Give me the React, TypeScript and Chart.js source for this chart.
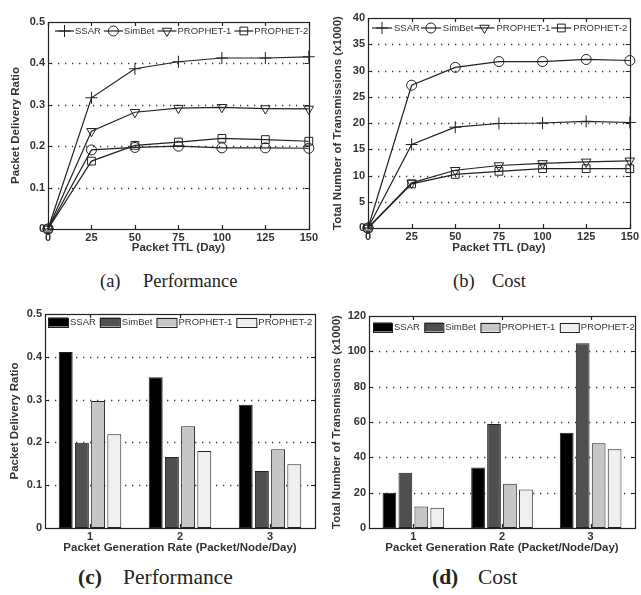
import React, { useEffect, useRef } from 'react';
import { Chart, registerables } from 'chart.js';

Chart.register(...registerables);

// ---------- data ----------
const SERIES = ['SSAR', 'SimBet', 'PROPHET-1', 'PROPHET-2'];
const TTL = [0, 25, 50, 75, 100, 125, 150];

const perfSSAR = [0, 0.317, 0.387, 0.404, 0.413, 0.413, 0.416];
const perfSimBet = [0, 0.191, 0.197, 0.2, 0.196, 0.196, 0.195];
const perfP1 = [0, 0.236, 0.282, 0.292, 0.294, 0.291, 0.29];
const perfP2 = [0, 0.164, 0.202, 0.21, 0.219, 0.216, 0.212];

const costSSAR = [0, 15.9, 19.2, 19.9, 20.0, 20.3, 20.1];
const costSimBet = [0, 27.2, 30.6, 31.7, 31.7, 32.1, 31.9];
const costP1 = [0, 8.6, 11.0, 11.9, 12.3, 12.6, 12.8];
const costP2 = [0, 8.4, 10.2, 10.8, 11.3, 11.3, 11.3];

const RATES = ['1', '2', '3'];
const barPerfSSAR = [0.411, 0.352, 0.288];
const barPerfSimBet = [0.199, 0.166, 0.133];
const barPerfP1 = [0.297, 0.238, 0.184];
const barPerfP2 = [0.219, 0.18, 0.149];

const barCostSSAR = [19.9, 34.2, 53.9];
const barCostSimBet = [31.3, 58.8, 104.6];
const barCostP1 = [12.2, 25.0, 48.0];
const barCostP2 = [11.4, 21.8, 44.6];

// ---------- styles ----------
const MARKERS = [
  { style: 'cross', radius: 6, rotation: 0 },
  { style: 'circle', radius: 5, rotation: 0 },
  { style: 'triangle', radius: 5.5, rotation: 180 },
  { style: 'rect', radius: 5.5, rotation: 0 },
];
const BAR_COLORS = ['#000000', '#505050', '#c6c6c6', '#efefef'];
const INK = '#222';
const TEXT = '#333';
const FONT = 'Liberation Sans, Arial, sans-serif';

function drawMarker(ctx: CanvasRenderingContext2D, style: string, x: number, y: number, r: number) {
  ctx.beginPath();
  if (style === 'cross') {
    ctx.moveTo(x - r, y);
    ctx.lineTo(x + r, y);
    ctx.moveTo(x, y - r);
    ctx.lineTo(x, y + r);
  } else if (style === 'circle') {
    ctx.arc(x, y, r, 0, Math.PI * 2);
  } else if (style === 'triangle') {
    const s = Math.sin(Math.PI / 3) * r;
    ctx.moveTo(x, y + r);
    ctx.lineTo(x - s, y - r / 2);
    ctx.lineTo(x + s, y - r / 2);
    ctx.closePath();
  } else {
    const s = Math.SQRT1_2 * r;
    ctx.rect(x - s, y - s, 2 * s, 2 * s);
  }
  ctx.stroke();
}

const framePlugin = {
  id: 'matlabFrame',
  beforeDatasetsDraw(chart: any) {
    const { ctx, chartArea: a, scales } = chart;
    const y = scales.y;
    ctx.save();
    ctx.strokeStyle = '#3a3a3a';
    ctx.lineWidth = 1.3;
    ctx.setLineDash([1.3, 5.7]);
    y.ticks.forEach((t: any) => {
      if (t.value <= y.min || t.value >= y.max) return;
      const py = Math.round(y.getPixelForValue(t.value)) + 0.5;
      ctx.beginPath();
      ctx.moveTo(a.left + 3, py);
      ctx.lineTo(a.right, py);
      ctx.stroke();
    });
    ctx.restore();
  },
  afterDatasetsDraw(chart: any) {
    const { ctx, chartArea: a, scales } = chart;
    const x = scales.x;
    const y = scales.y;
    const L = 4;
    ctx.save();
    ctx.strokeStyle = INK;
    ctx.lineWidth = 1.2;
    ctx.setLineDash([]);
    ctx.strokeRect(Math.round(a.left) + 0.5, Math.round(a.top) + 0.5, Math.round(a.right - a.left), Math.round(a.bottom - a.top));
    ctx.beginPath();
    x.ticks.forEach((_t: any, i: number) => {
      const px = Math.round(x.getPixelForTick(i)) + 0.5;
      ctx.moveTo(px, a.bottom);
      ctx.lineTo(px, a.bottom - L);
      ctx.moveTo(px, a.top);
      ctx.lineTo(px, a.top + L);
    });
    y.ticks.forEach((t: any) => {
      const py = Math.round(y.getPixelForValue(t.value)) + 0.5;
      ctx.moveTo(a.left, py);
      ctx.lineTo(a.left + L, py);
      ctx.moveTo(a.right, py);
      ctx.lineTo(a.right - L, py);
    });
    ctx.stroke();
    ctx.restore();
  },
};

const legendPlugin = {
  id: 'insideLegend',
  afterDraw(chart: any, _args: any, opts: any) {
    if (!opts || !opts.kind) return;
    const { ctx, chartArea: a } = chart;
    ctx.save();
    ctx.font = opts.font;
    ctx.textBaseline = 'middle';
    let x = a.left + opts.dx;
    const y = a.top + opts.dy;
    chart.data.datasets.forEach((ds: any, i: number) => {
      ctx.setLineDash([]);
      if (opts.kind === 'line') {
        ctx.strokeStyle = INK;
        ctx.lineWidth = 1.2;
        ctx.beginPath();
        ctx.moveTo(x, y);
        ctx.lineTo(x + opts.sample, y);
        ctx.stroke();
        ctx.lineWidth = 1;
        drawMarker(ctx, MARKERS[i].style, x + opts.sample / 2, y, MARKERS[i].radius);
      } else {
        ctx.fillStyle = ds.backgroundColor;
        ctx.fillRect(x, y - opts.h / 2, opts.sample, opts.h);
        ctx.strokeStyle = INK;
        ctx.lineWidth = 1;
        ctx.strokeRect(x + 0.5, Math.round(y - opts.h / 2) + 0.5, opts.sample, opts.h);
      }
      ctx.fillStyle = TEXT;
      ctx.fillText(ds.label, x + opts.sample + opts.tg, y + 0.5);
      x += opts.sample + opts.tg + ctx.measureText(ds.label).width + opts.ig;
    });
    ctx.restore();
  },
};

type Geo = {
  yW: number; xH: number; padTop: number; padRight: number;
  yTitlePad: number; xTitlePad: number;
};

function scalesFor(geo: Geo, xOpts: any, yOpts: any, xTitle: string, yTitle: string) {
  return {
    x: {
      ...xOpts,
      grid: { display: false, drawTicks: false },
      border: { display: false },
      ticks: { ...(xOpts.ticks || {}), padding: 2, color: TEXT, font: { family: FONT, size: 11, weight: 'bold' }, maxRotation: 0, autoSkip: false },
      title: { display: true, text: xTitle, color: TEXT, font: { family: FONT, size: 11.5, weight: 'bold' }, padding: { top: 0, bottom: geo.xTitlePad } },
      afterFit: (s: any) => { s.height = geo.xH; },
    },
    y: {
      ...yOpts,
      grid: { display: false, drawTicks: false },
      border: { display: false },
      ticks: { ...(yOpts.ticks || {}), padding: 3, color: TEXT, font: { family: FONT, size: 11, weight: 'bold' } },
      title: { display: true, text: yTitle, color: TEXT, font: { family: FONT, size: 11.5, weight: 'bold' }, padding: { top: geo.yTitlePad, bottom: 0 } },
      afterFit: (s: any) => { s.width = geo.yW; },
    },
  };
}

function lineConfig(values: number[][], yMax: number, yStep: number, yTitle: string, geo: Geo, legend: any) {
  return {
    type: 'line',
    data: {
      datasets: values.map((vals, i) => ({
        label: SERIES[i],
        data: TTL.map((t, j) => ({ x: t, y: vals[j] })),
        borderColor: INK,
        borderWidth: 1.2,
        pointStyle: MARKERS[i].style,
        pointRadius: MARKERS[i].radius,
        pointRotation: MARKERS[i].rotation,
        pointBorderColor: INK,
        pointBackgroundColor: 'rgba(0,0,0,0)',
        pointBorderWidth: 1,
        tension: 0,
        fill: false,
        clip: false,
      })),
    },
    options: {
      responsive: false,
      animation: false,
      events: [],
      layout: { autoPadding: false, padding: { top: geo.padTop, right: geo.padRight, left: 0, bottom: 0 } },
      plugins: { legend: { display: false }, tooltip: { enabled: false }, insideLegend: legend },
      scales: scalesFor(
        geo,
        { type: 'linear', min: 0, max: 150, ticks: { stepSize: 25 } },
        { type: 'linear', min: 0, max: yMax, ticks: { stepSize: yStep } },
        'Packet TTL (Day)',
        yTitle,
      ),
    },
    plugins: [framePlugin, legendPlugin],
  };
}

function barConfig(values: number[][], yMax: number, yStep: number, yTitle: string, geo: Geo, legend: any) {
  return {
    type: 'bar',
    data: {
      labels: RATES,
      datasets: values.map((vals, i) => ({
        label: SERIES[i],
        data: vals,
        backgroundColor: BAR_COLORS[i],
        borderColor: INK,
        borderWidth: 1,
        borderSkipped: false,
        categoryPercentage: 0.72,
        barPercentage: 0.86,
      })),
    },
    options: {
      responsive: false,
      animation: false,
      events: [],
      layout: { autoPadding: false, padding: { top: geo.padTop, right: geo.padRight, left: 0, bottom: 0 } },
      plugins: { legend: { display: false }, tooltip: { enabled: false }, insideLegend: legend },
      scales: scalesFor(
        geo,
        { type: 'category', offset: true },
        { type: 'linear', min: 0, max: yMax, ticks: { stepSize: yStep } },
        'Packet Generation Rate (Packet/Node/Day)',
        yTitle,
      ),
    },
    plugins: [framePlugin, legendPlugin],
  };
}

function Panel({ config, left, top, width, height }: any) {
  const ref = useRef<HTMLCanvasElement>(null);
  useEffect(() => {
    const chart = new Chart(ref.current as HTMLCanvasElement, config);
    return () => chart.destroy();
  }, []);
  return (
    <canvas
      ref={ref}
      width={width}
      height={height}
      style={{ position: 'absolute', left, top, width, height }}
    />
  );
}

function Caption({ left, top, size, bold, children }: any) {
  return (
    <span
      style={{
        position: 'absolute',
        left,
        top,
        fontFamily: 'Liberation Serif, Times New Roman, serif',
        fontSize: size,
        lineHeight: 1,
        fontWeight: bold ? 'bold' : 'normal',
        color: '#222',
        whiteSpace: 'nowrap',
      }}
    >
      {children}
    </span>
  );
}

export default function App() {
  const cfgA = lineConfig(
    [perfSSAR, perfSimBet, perfP1, perfP2], 0.5, 0.1, 'Packet Delivery Ratio',
    { yW: 48, xH: 29, padTop: 22, padRight: 7, yTitlePad: 9, xTitlePad: 3 },
    { kind: 'line', dx: 7, dy: 9, sample: 19, tg: 1, ig: 3, font: `9.5px ${FONT}` },
  );
  const cfgB = lineConfig(
    [costSSAR, costSimBet, costP1, costP2], 40, 5, 'Total Number of Transmissions (x1000)',
    { yW: 48, xH: 30, padTop: 18, padRight: 8, yTitlePad: 11, xTitlePad: 3 },
    { kind: 'line', dx: 4, dy: 10, sample: 20, tg: 2, ig: 1, font: `9.5px ${FONT}` },
  );
  const cfgC = barConfig(
    [barPerfSSAR, barPerfSimBet, barPerfP1, barPerfP2], 0.5, 0.1, 'Packet Delivery Ratio',
    { yW: 45, xH: 30, padTop: 14, padRight: 5, yTitlePad: 8, xTitlePad: 3 },
    { kind: 'bar', dx: 3, dy: 8, sample: 20, h: 9, tg: 2, ig: 4, font: `9.5px ${FONT}` },
  );
  const cfgD = barConfig(
    [barCostSSAR, barCostSimBet, barCostP1, barCostP2], 120, 20, 'Total Number of Transmissions (x1000)',
    { yW: 49, xH: 30, padTop: 16, padRight: 6, yTitlePad: 10, xTitlePad: 3 },
    { kind: 'bar', dx: 4, dy: 11, sample: 19, h: 9, tg: 2, ig: 4.5, font: `9.5px ${FONT}` },
  );

  return (
    <div style={{ position: 'absolute', left: 0, top: 0, width: 641, height: 595, background: '#fff', overflow: 'hidden' }}>
      <Panel config={cfgA} left={0} top={0} width={320} height={258} />
      <Panel config={cfgB} left={320} top={0} width={321} height={258} />
      <Panel config={cfgC} left={0} top={300} width={320} height={258} />
      <Panel config={cfgD} left={320} top={300} width={321} height={258} />
      <Caption left={100} top={272} size={18.5}>(a)</Caption>
      <Caption left={143} top={272} size={18.5}>Performance</Caption>
      <Caption left={453} top={272} size={18.5}>(b)</Caption>
      <Caption left={492} top={272} size={18.5}>Cost</Caption>
      <Caption left={78} top={567} size={21.5} bold>(c)</Caption>
      <Caption left={123} top={567} size={21.5}>Performance</Caption>
      <Caption left={432} top={567} size={21.5} bold>(d)</Caption>
      <Caption left={478} top={567} size={21.5}>Cost</Caption>
    </div>
  );
}
